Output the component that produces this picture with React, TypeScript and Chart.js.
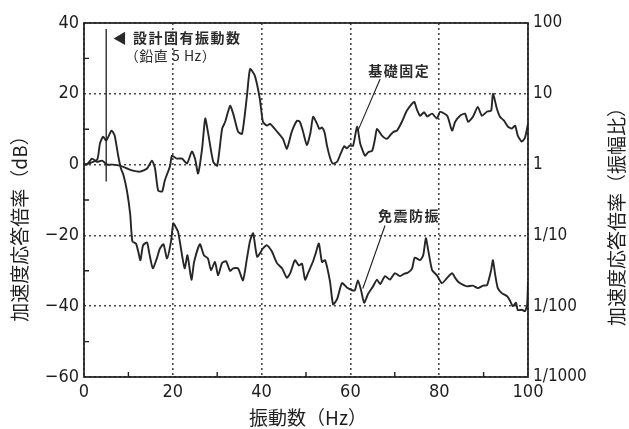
import React, { useEffect, useRef } from "react";
import { Chart, registerables } from "chart.js";

Chart.register(...registerables);

// 基礎固定 (fixed foundation)
const fixedFreq = [0, 0.7, 1.8, 2.9, 4.1, 5.2, 6.5, 8.1, 9.7, 11, 12.6, 14.2, 15.3, 16, 16.7, 17.6, 18.2, 19.4, 19.8, 20.9, 22.1, 23.2, 24.3, 25, 25.7, 26.6, 27.3, 27.9, 29.1, 30, 31.1, 31.8, 32.9, 33.6, 34.7, 35.6, 36.7, 37.4, 38.5, 39.6, 40.3, 41.2, 41.9, 43.5, 44.8, 45.7, 46.8, 48, 48.6, 49.3, 50.2, 51, 51.6, 52.5, 53, 53.6, 54.2, 54.7, 55.4, 56, 57, 57.8, 58.6, 59.2, 59.9, 60.6, 61.5, 62.2, 62.6, 63.3, 64, 64.9, 65.5, 66, 67.1, 68.2, 69.1, 69.8, 70.5, 71.6, 72.7, 73.9, 74.4, 75, 75.7, 76.6, 77.3, 78.4, 79.5, 80.2, 81.8, 82.9, 83.6, 84.7, 85.8, 86.5, 87.6, 88.7, 89.6, 90.8, 91.7, 92.1, 93, 93.7, 94.6, 95.5, 96.4, 97.1, 97.7, 98.6, 99.3, 100];
const fixedDb = [0, 0, 1.7, 0.8, 1.1, 0, 0, -0.3, -1.1, -1.7, -2, -1.1, 1.1, -1.1, -7.3, -7.6, -4.5, -0.3, 2.5, 1.7, 1.7, 0.3, 3.7, 1.7, -2.5, 4.5, 13, 9.3, 0.8, -0.3, 10.1, 12.1, 16.6, 14.4, 9.3, 8.7, 19.4, 27, 25, 18.6, 12.1, 11, 11.5, 9.3, 7.3, 4.5, 9.3, 12.4, 12.1, 9.5, 5.5, 9, 13.5, 11.5, 10.1, 10.5, 9, 5.5, 2, 0.3, 0.8, 3.1, 5.2, 4.6, 5.4, 5.3, 10.7, 6, 4.5, 2.5, 3.5, 3.9, 7, 10.1, 8.2, 7.3, 8.5, 9.3, 9.6, 12.1, 15.2, 17.2, 17.7, 15.5, 13.8, 14.8, 13.6, 14.4, 13, 14.9, 13.8, 9.6, 12.1, 13.8, 14.4, 12.1, 13.5, 16.3, 13.8, 15, 15.2, 20, 15.8, 13.5, 12.4, 10.7, 10.2, 11, 8.2, 6.5, 7.5, 11.5];

// 免震防振 (isolated)
const isoFreq = [0, 1.5, 3, 3.6, 4.3, 5, 6.2, 6.9, 7.7, 8.3, 8.9, 9.7, 10.4, 10.9, 11.7, 12.2, 12.7, 13.3, 14.2, 14.7, 15.5, 16.4, 17.1, 17.9, 18.7, 19.6, 20.1, 20.6, 21.2, 22.2, 22.7, 23.3, 24.2, 24.8, 26.1, 27, 27.9, 28.6, 29.5, 30.2, 31.1, 32, 32.9, 33.6, 34.7, 35.8, 36.7, 37.4, 38.1, 39, 40.3, 41.2, 42.3, 43.5, 44.6, 45.7, 46.5, 47.5, 48.4, 49.1, 49.8, 50.5, 51.6, 52.2, 52.9, 53.6, 54.3, 55.4, 56.1, 57, 58.1, 59.2, 60.4, 61, 61.7, 62.4, 63.1, 64, 65.1, 66, 66.7, 67.8, 68.9, 70, 71.2, 72.2, 73, 73.9, 74.5, 75.7, 76.4, 77, 77.5, 78.4, 79.5, 80.6, 81.8, 82.9, 83.6, 84.2, 85.4, 86.3, 87.6, 88.7, 89.9, 90.8, 91.7, 92.1, 92.6, 93.2, 94.1, 95.3, 95.9, 96.6, 97.3, 97.7, 98.6, 99.3, 99.8, 100];
const isoDb = [0, 0.5, 1.5, 6, 7.9, 6.8, 9.6, 8.2, 2.5, -1, -3, -7.6, -14, -21.7, -22.3, -24.5, -27, -22.8, -22, -25, -29.3, -26.5, -23.7, -22.5, -26.5, -21.7, -16.6, -17.5, -19, -26.5, -29.3, -25.6, -32.5, -27.5, -22.5, -25.6, -26.5, -29.8, -27.5, -31.3, -27.8, -27.3, -30, -29.3, -29.3, -32.7, -26.5, -21.5, -19.4, -26, -23.7, -22.8, -24.5, -27.9, -29.3, -32, -30.5, -27, -28.5, -28, -32.5, -30.5, -27.3, -25, -22.3, -27.5, -27, -33, -39.5, -38, -33.5, -34.7, -35.5, -35.5, -32.7, -35.5, -39, -36.5, -34.4, -32.5, -33.8, -31.5, -32.5, -30.7, -31.5, -30.8, -30.5, -29.3, -26.3, -27, -25.6, -20.8, -24, -29.8, -31.3, -33.5, -32, -30.7, -32, -33, -34, -34.4, -34.2, -34.9, -34.2, -34, -29.8, -27, -31, -34.9, -36.3, -37.2, -38.3, -40, -39, -41.1, -41, -41.4, -39.7, -33];

const xTickValues = [0, 20, 40, 60, 80, 100];
const xTickLabels = ["0", "20", "40", "60", "80", "100"];
const yTickValues = [40, 20, 0, -20, -40, -60];
const leftTickLabels = ["40", "20", "0", "\u221220", "\u221240", "\u221260"];
const rightTickLabels = ["100", "10", "1", "1/10", "1/100", "1/1000"];
const minorX = [10, 30, 50, 70, 90];
const minorY = [30, 10, -10, -30, -50];

const xTitle = "振動数（Hz）";
const leftTitle = "加速度応答倍率（dB）";
const rightTitle = "加速度応答倍率（振幅比）";
const noteLine1 = "◀ 設計固有振動数";
const noteLine2 = "（鉛直 5 Hz）";
const fixedLabel = "基礎固定";
const isoLabel = "免震防振";
const designFreq = 5;

const TICK_FONT = "'Liberation Sans Narrow', 'DejaVu Sans Condensed', 'Liberation Sans', sans-serif";
const JP_FONT = "'Noto Sans CJK JP', 'Noto Sans', sans-serif";
const INK = "#1e1e1e";

const decorPlugin = {
  id: "decor",
  afterDatasetsDraw(chart: any) {
    const { ctx, chartArea: a, scales } = chart;
    const x = scales.x;
    const y = scales.y;
    ctx.save();
    ctx.strokeStyle = INK;
    ctx.lineWidth = 1.7;
    ctx.setLineDash([]);
    ctx.strokeRect(a.left, a.top, a.right - a.left, a.bottom - a.top);

    ctx.lineWidth = 1.4;
    ctx.beginPath();
    for (const v of minorY) {
      const py = y.getPixelForValue(v);
      ctx.moveTo(a.left, py);
      ctx.lineTo(a.left + 5, py);
    }
    for (const v of minorX) {
      const px = x.getPixelForValue(v);
      ctx.moveTo(px, a.bottom);
      ctx.lineTo(px, a.bottom - 5);
    }
    ctx.stroke();

    // design frequency marker
    const fx = x.getPixelForValue(designFreq);
    ctx.lineWidth = 1.3;
    ctx.beginPath();
    ctx.moveTo(fx, y.getPixelForValue(38.3));
    ctx.lineTo(fx, y.getPixelForValue(-4.8));
    ctx.stroke();

    // leader lines
    ctx.lineWidth = 1.1;
    ctx.beginPath();
    ctx.moveTo(x.getPixelForValue(66.7), y.getPixelForValue(24.2));
    ctx.lineTo(x.getPixelForValue(61.7), y.getPixelForValue(9.6));
    ctx.moveTo(x.getPixelForValue(67.8), y.getPixelForValue(-17.2));
    ctx.lineTo(x.getPixelForValue(62.8), y.getPixelForValue(-35));
    ctx.stroke();

    // annotation texts
    ctx.fillStyle = "#2a2a2a";
    ctx.textBaseline = "middle";
    ctx.textAlign = "left";
    (ctx as any).letterSpacing = "1.5px";
    ctx.font = `bold 14px ${JP_FONT}`;
    ctx.fillText(noteLine1, x.getPixelForValue(6.5), y.getPixelForValue(35.8));
    (ctx as any).letterSpacing = "0.5px";
    ctx.font = `14px ${JP_FONT}`;
    ctx.fillText(noteLine2, x.getPixelForValue(9.2), y.getPixelForValue(30.7));
    (ctx as any).letterSpacing = "1.5px";
    ctx.font = `bold 14px ${JP_FONT}`;
    ctx.fillText(fixedLabel, x.getPixelForValue(64), y.getPixelForValue(26.5));
    ctx.fillText(isoLabel, x.getPixelForValue(66.2), y.getPixelForValue(-14.4));
    (ctx as any).letterSpacing = "0px";

    // axis titles
    ctx.fillStyle = INK;
    ctx.font = `19px ${JP_FONT}`;
    ctx.textAlign = "center";
    ctx.fillText(xTitle, (a.left + a.right) / 2 + 2, a.bottom + 41);

    ctx.save();
    ctx.translate(20, (a.top + a.bottom) / 2 + 24);
    ctx.rotate(-Math.PI / 2);
    ctx.fillText(leftTitle, 0, 0);
    ctx.restore();

    ctx.save();
    ctx.translate(617, (a.top + a.bottom) / 2 + 12);
    ctx.rotate(-Math.PI / 2);
    ctx.fillText(rightTitle, 0, 0);
    ctx.restore();

    ctx.restore();
  },
};

const gridColor = (ctx: any) =>
  ctx.tick && xTickValues.includes(ctx.tick.value) ? "#4a4a4a" : "rgba(0,0,0,0)";
const gridColorY = (ctx: any) =>
  ctx.tick && yTickValues.includes(ctx.tick.value) ? "#4a4a4a" : "rgba(0,0,0,0)";

export default function App() {
  const canvasRef = useRef<HTMLCanvasElement | null>(null);

  useEffect(() => {
    const canvas = canvasRef.current;
    if (!canvas) return;
    const chart = new Chart(canvas, {
      type: "line",
      data: {
        datasets: [
          {
            label: fixedLabel,
            data: fixedFreq.map((f, i) => ({ x: f, y: fixedDb[i] })),
            borderColor: "#262626",
            borderWidth: 1.9,
            pointRadius: 0,
            tension: 0.2,
            fill: false,
          },
          {
            label: isoLabel,
            data: isoFreq.map((f, i) => ({ x: f, y: isoDb[i] })),
            borderColor: "#262626",
            borderWidth: 1.9,
            pointRadius: 0,
            tension: 0.2,
            fill: false,
          },
        ],
      },
      options: {
        responsive: false,
        animation: false,
        layout: { padding: { top: 23, left: 0, right: 0, bottom: 0 } },
        plugins: { legend: { display: false }, tooltip: { enabled: false } },
        scales: {
          x: {
            type: "linear",
            min: 0,
            max: 100,
            afterFit: (s: any) => {
              s.height = 52;
            },
            ticks: {
              stepSize: 10,
              autoSkip: false,
              maxRotation: 0,
              padding: 5,
              color: INK,
              font: { family: TICK_FONT, size: 18 },
              callback: (v: any) => {
                const i = xTickValues.indexOf(Number(v));
                return i >= 0 ? xTickLabels[i] : "";
              },
            },
            grid: { color: gridColor, lineWidth: 1.6, drawTicks: false },
            border: { display: false, dash: [2, 3] },
          },
          y: {
            type: "linear",
            position: "left",
            min: -60,
            max: 40,
            afterFit: (s: any) => {
              s.width = 84;
            },
            ticks: {
              stepSize: 10,
              autoSkip: false,
              padding: 5,
              color: INK,
              font: { family: TICK_FONT, size: 18 },
              callback: (v: any) => {
                const i = yTickValues.indexOf(Number(v));
                return i >= 0 ? leftTickLabels[i] : "";
              },
            },
            grid: { color: gridColorY, lineWidth: 1.6, drawTicks: false },
            border: { display: false, dash: [2, 3] },
          },
          y2: {
            type: "linear",
            position: "right",
            min: -60,
            max: 40,
            afterFit: (s: any) => {
              s.width = 101;
            },
            ticks: {
              stepSize: 10,
              autoSkip: false,
              padding: 5,
              color: INK,
              font: { family: TICK_FONT, size: 17 },
              callback: (v: any) => {
                const i = yTickValues.indexOf(Number(v));
                return i >= 0 ? rightTickLabels[i] : "";
              },
            },
            grid: { display: false, drawTicks: false },
            border: { display: false },
          },
        },
      },
      plugins: [decorPlugin],
    });
    return () => chart.destroy();
  }, []);

  return (
    <div style={{ position: "fixed", left: 0, top: 0, width: 629, height: 429, background: "#fff" }}>
      <canvas ref={canvasRef} width={629} height={429} style={{ display: "block" }} />
    </div>
  );
}
